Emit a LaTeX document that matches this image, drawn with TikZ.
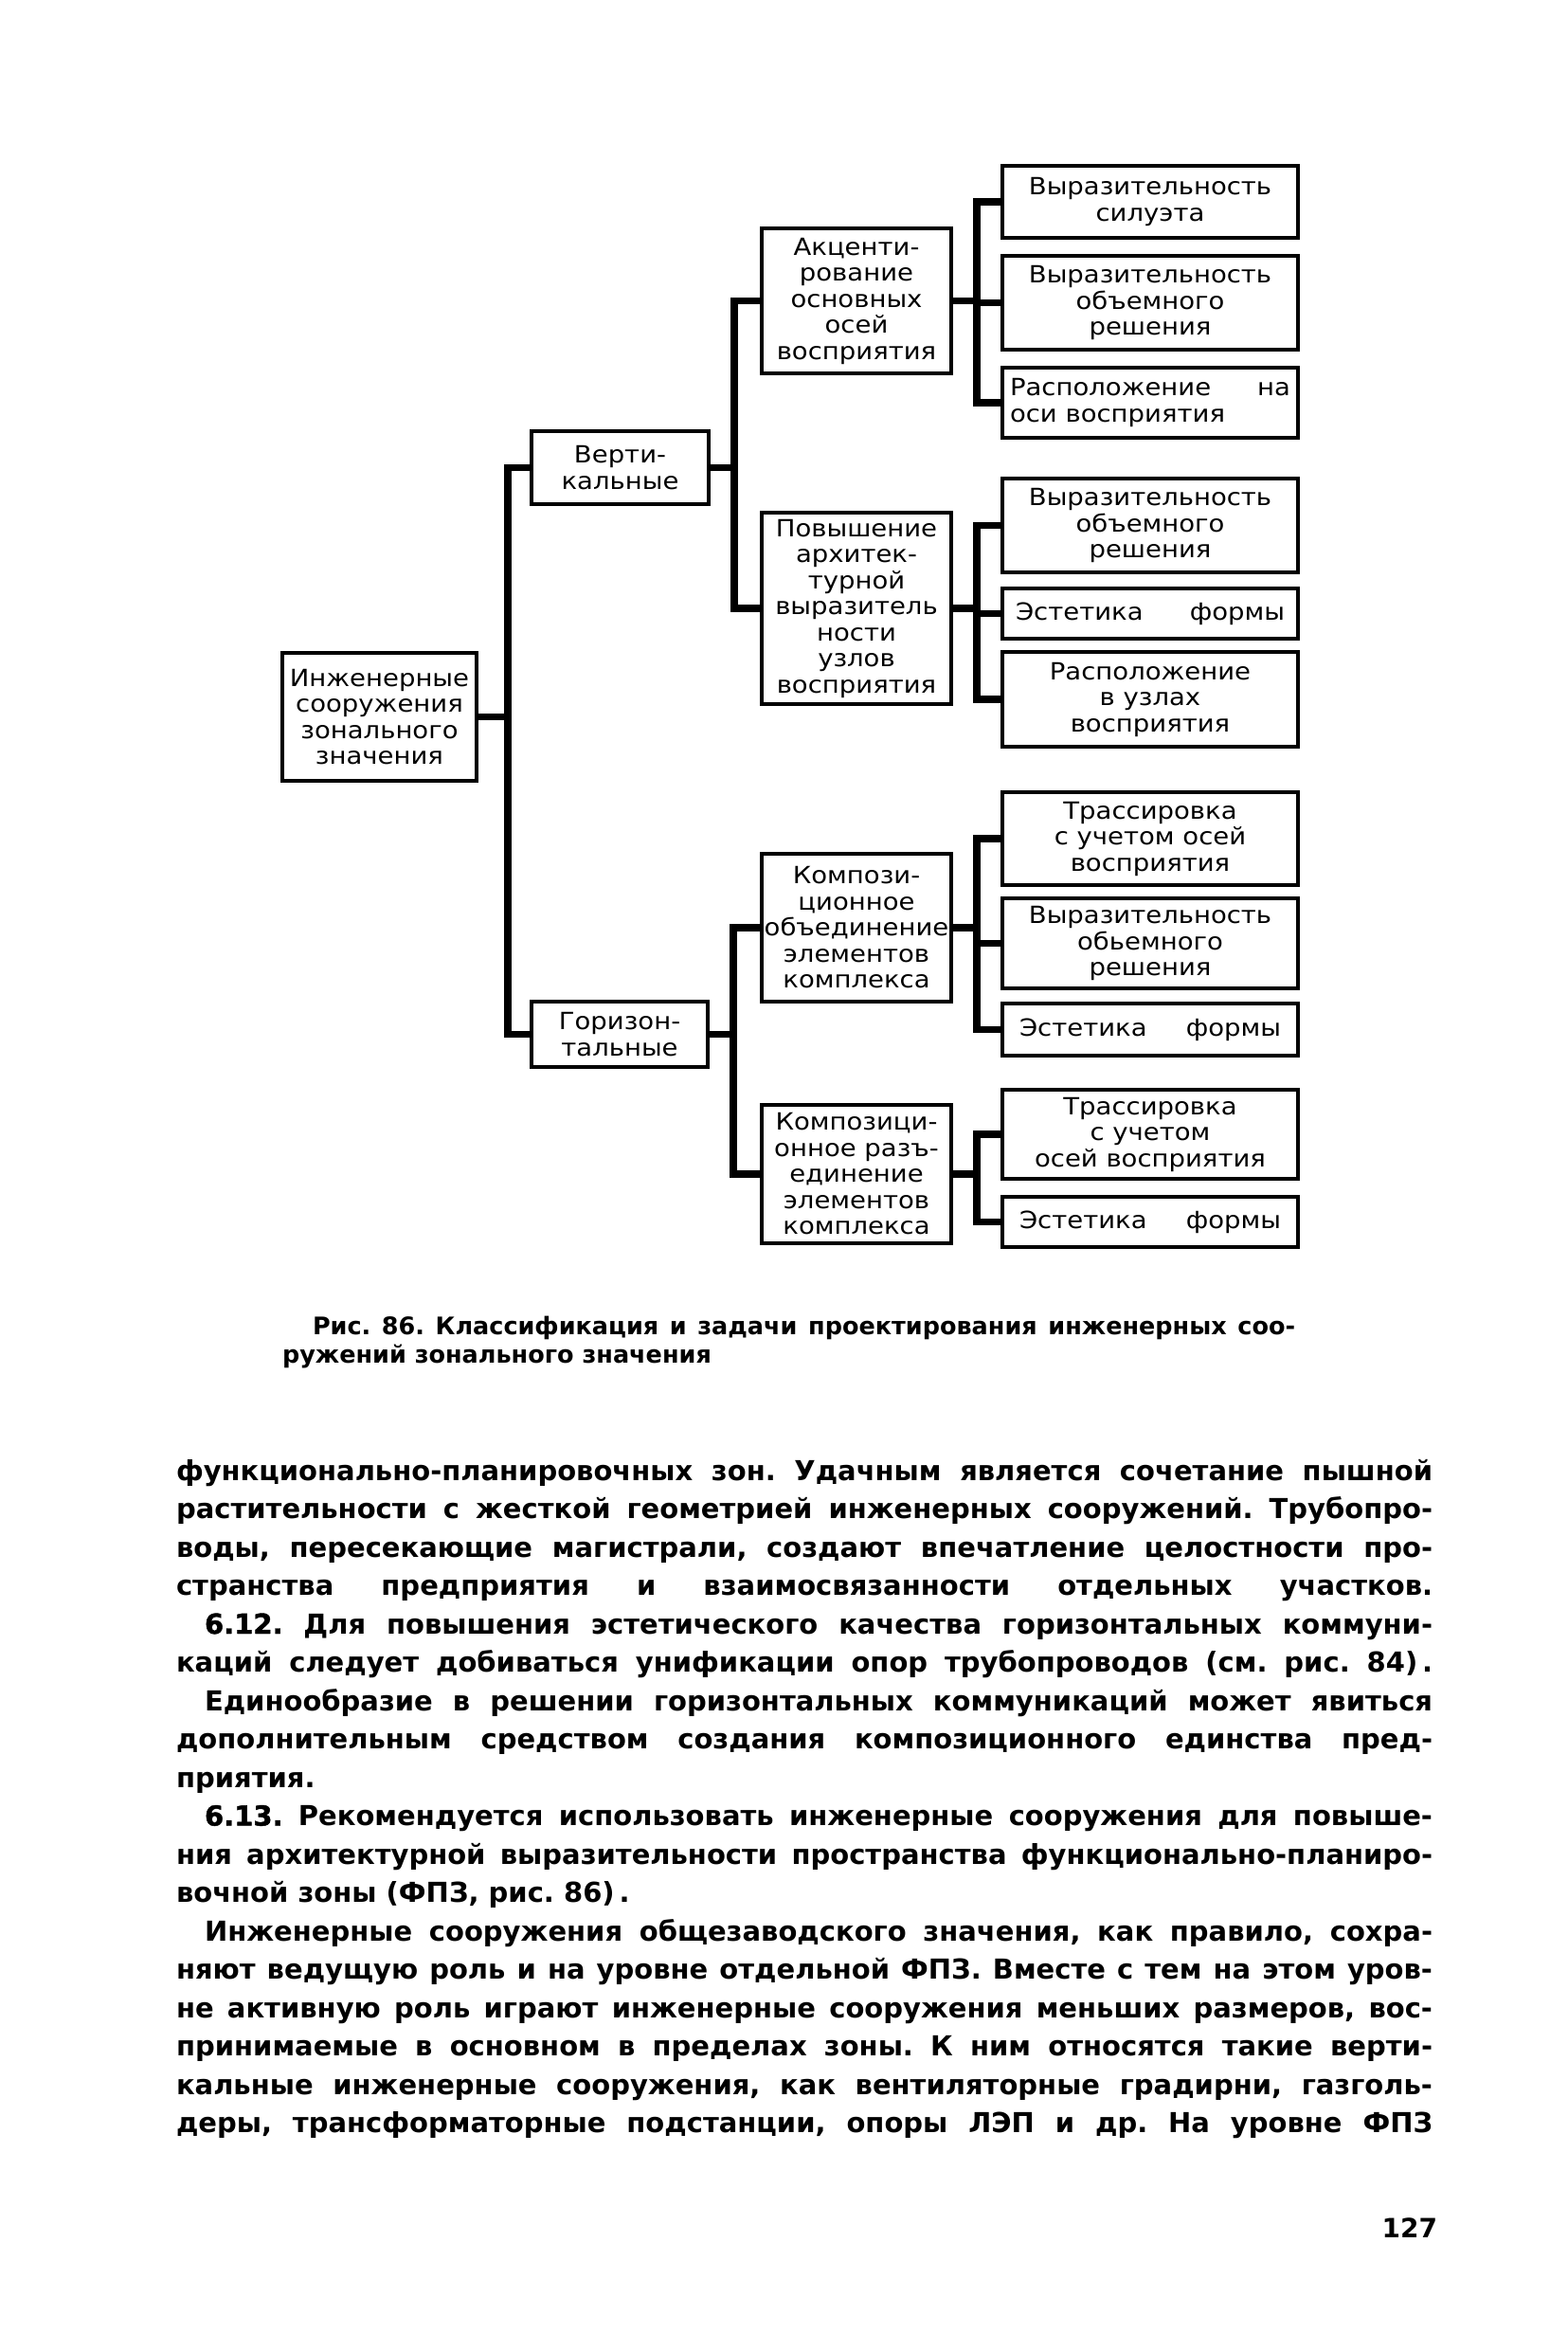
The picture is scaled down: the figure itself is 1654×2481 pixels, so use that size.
\documentclass[tikz,border=0pt]{standalone}
\usepackage{fontspec}
\usepackage{tikz}
\newfontfamily\boxfont{DejaVu Sans}[FakeStretch=1.1]
\newfontfamily\bodyfont{DejaVu Sans}
\newfontfamily\numfont{DejaVu Sans}[BoldFeatures={FakeBold=1.5}]
% justified text lines
\newcommand\jl[1]{\makebox[\linewidth][s]{#1}\par}
\newcommand\jli[1]{\makebox[\linewidth][s]{\hspace{3mm}#1}\par}
\frenchspacing

\begin{document}
\begin{tikzpicture}[x=0.1mm, y=-0.1mm, inner sep=0pt, outer sep=0pt,
    blk/.style={draw, line width=0.4mm, anchor=north west, align=center,
        font={\boxfont\fontsize{2.5mm}{2.75mm}\selectfont}},
    leaf/.style={blk, minimum width=31.2mm},
    mid/.style={blk, minimum width=20mm},
    conn/.style={line width=0.75mm}]
    \useasboundingbox (0,0) rectangle (1654,2481);

    % root
	\node[blk, minimum width=20.5mm, minimum height=13.5mm] (zone_eng) at (298, 689)
    {Инженерные\\сооружения\\зонального\\значения};

    % first level
    \node[blk, minimum width=18.7mm, minimum height=7.7mm] (vert) at (561, 455)
    {Верти-\\кальные};
    \node[blk, minimum width=18.6mm, minimum height=6.9mm] (horiz) at (561, 1057)
    {Горизон-\\тальные};

    % second level
    \node[mid, minimum height=15.3mm] (accent_axes) at (804, 241)
    {Акценти-\\рование\\основных\\осей\\восприятия};
    \node[mid, minimum height=20.2mm] (expr_nodes) at (804, 541)
    {Повышение\\архитек-\\турной\\выразитель\\ности\\узлов\\восприятия};
    \node[mid, minimum height=15.6mm] (comp_union) at (804, 901)
    {Компози-\\ционное\\объединение\\элементов\\комплекса};
    \node[mid, minimum height=14.6mm] (comp_split) at (804, 1166)
    {Композици-\\онное разъ-\\единение\\элементов\\комплекса};

    % leaves
    \node[leaf, minimum height=7.6mm] (silhouette) at (1058, 175)
    {Выразительность\\силуэта};
    \node[leaf, minimum height=9.9mm] (volume_a) at (1058, 270)
    {Выразительность\\объемного\\решения};
    \node[leaf, minimum height=7.4mm, align=left] (axis_place) at (1058, 388)
    {\makebox[29.6mm][s]{Расположение на}\\оси восприятия};
    \node[leaf, minimum height=9.9mm] (volume_b) at (1058, 505)
    {Выразительность\\объемного\\решения};
    \node[leaf, minimum height=5.3mm] (form_a) at (1058, 621)
    {\makebox[28.4mm][s]{Эстетика формы}};
    \node[leaf, minimum height=10mm] (node_place) at (1058, 688)
    {Расположение\\в узлах\\восприятия};
    \node[leaf, minimum height=9.8mm] (trace_a) at (1058, 836)
    {Трассировка\\с учетом осей\\восприятия};
    \node[leaf, minimum height=9.5mm] (volume_c) at (1058, 948)
    {Выразительность\\обьемного\\решения};
    \node[leaf, minimum height=5.5mm] (form_b) at (1058, 1059)
    {\makebox[27.6mm][s]{Эстетика формы}};
    \node[leaf, minimum height=9.4mm] (trace_b) at (1058, 1150)
    {Трассировка\\с учетом\\осей восприятия};
    \node[leaf, minimum height=5.3mm] (form_c) at (1058, 1263)
    {\makebox[27.6mm][s]{Эстетика формы}};

    % links
    \foreach \c in {vert, horiz}
        \draw[conn] (zone_eng.east) -- ++(33,0) |- (\c.west);
    \foreach \c in {accent_axes, expr_nodes}
        \draw[conn] (vert.east) -- ++(27,0) |- (\c.west);
    \foreach \c in {comp_union, comp_split}
        \draw[conn] (horiz.east) -- ++(27,0) |- (\c.west);
    \foreach \c in {silhouette, volume_a, axis_place}
        \draw[conn] (accent_axes.east) -- ++(27,0) |- (\c.west);
    \foreach \c in {volume_b, form_a, node_place}
        \draw[conn] (expr_nodes.east) -- ++(27,0) |- (\c.west);
    \foreach \c in {trace_a, volume_c, form_b}
        \draw[conn] (comp_union.east) -- ++(27,0) |- (\c.west);
    \foreach \c in {trace_b, form_c}
        \draw[conn] (comp_split.east) -- ++(27,0) |- (\c.west);

    % caption
    \node[anchor=base west] (caption) at (298, 1408)
    {%
    \begin{minipage}[t]{106.9mm}
    \bodyfont\bfseries\fontsize{2.55mm}{3.0mm}\selectfont
    \setlength{\parindent}{0pt}\setlength{\parskip}{0pt}%
    \makebox[\linewidth][s]{\hspace{3.2mm}Рис. 86. Классификация и задачи проектирования инженерных соо-}\par
    ружений зонального значения\par
    \end{minipage}%
    };

    % body text
    \node[anchor=base west] (body) at (186, 1562)
    {%
    \begin{minipage}[t]{132.6mm}
    \bodyfont\bfseries\fontsize{2.9mm}{4.05mm}\selectfont
    \setlength{\parindent}{0pt}\setlength{\parskip}{0pt}%
    \jl{функционально-планировочных зон. Удачным является сочетание пышной}
    \jl{растительности с жесткой геометрией инженерных сооружений. Трубопро-}
    \jl{воды, пересекающие магистрали, создают впечатление целостности про-}
    \jl{странства предприятия и взаимосвязанности отдельных участков.}
    \jli{{\numfont\bfseries 6.12.} Для повышения эстетического качества горизонтальных коммуни-}
    \jl{каций следует добиваться унификации опор трубопроводов (см. рис. 84)\,.}
    \jli{Единообразие в решении горизонтальных коммуникаций может явиться}
    \jl{дополнительным средством создания композиционного единства пред-}
    приятия.\par
    \jli{{\numfont\bfseries 6.13.} Рекомендуется использовать инженерные сооружения для повыше-}
    \jl{ния архитектурной выразительности пространства функционально-планиро-}
    вочной зоны (ФПЗ, рис. 86)\,.\par
    \jli{Инженерные сооружения общезаводского значения, как правило, сохра-}
    \jl{няют ведущую роль и на уровне отдельной ФПЗ. Вместе с тем на этом уров-}
    \jl{не активную роль играют инженерные сооружения меньших размеров, вос-}
    \jl{принимаемые в основном в пределах зоны. К ним относятся такие верти-}
    \jl{кальные инженерные сооружения, как вентиляторные градирни, газголь-}
    \jl{деры, трансформаторные подстанции, опоры ЛЭП и др. На уровне ФПЗ}
    \end{minipage}%
    };

    % page number
    \node[anchor=base east, font={\bodyfont\bfseries\fontsize{2.8mm}{3mm}\selectfont}] (page_no) at (1517, 2361) {127};
\end{tikzpicture}
\end{document}
